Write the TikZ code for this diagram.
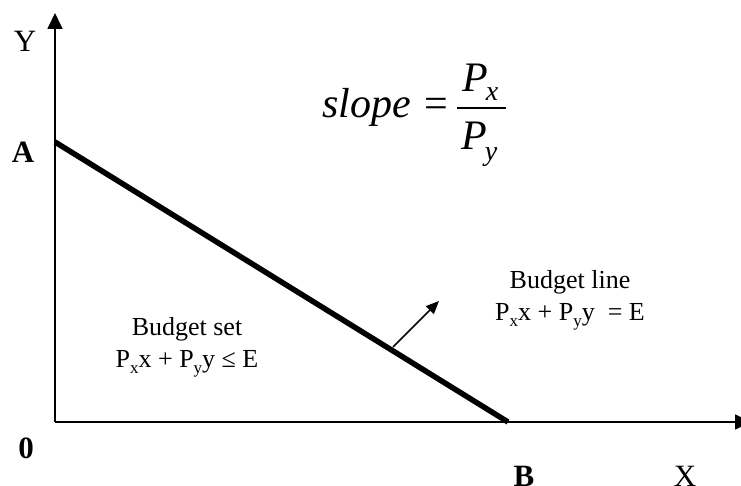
\documentclass[tikz,border=0pt]{standalone}
\usepackage{fontspec}
\setmainfont{Liberation Serif}
\usetikzlibrary{arrows.meta}
\tikzset{
  axis/.style={line width=1.7pt,-{Triangle[length=16pt,width=15pt]}},
  budget/.style={line width=5.5pt},
  pointer/.style={line width=1.6pt,-{Triangle[length=13pt,width=11pt]}},
  lab/.style={inner sep=0pt,anchor=base,font=\fontsize{31}{34}\selectfont},
  boldlab/.style={lab,font=\fontsize{31}{34}\selectfont\bfseries},
  txt/.style={inner sep=0pt,anchor=base,font=\fontsize{26}{32}\selectfont},
  big/.style={inner sep=0pt,anchor=base west,font=\fontsize{42}{50}\selectfont},
}
\begin{document}
\begin{tikzpicture}[x=1pt,y=-1pt]
\useasboundingbox (0,0) rectangle (741,486);
\clip (0,0) rectangle (741,486);
\coordinate (O) at (55,422);
\coordinate (Ytip) at (55,13);
\coordinate (Xtip) at (751,422);
\coordinate (A) at (55,142);
\coordinate (B) at (508,422);
\coordinate (ps) at (393,347);
\coordinate (pe) at (439,301);
\coordinate (barL) at (457,108);
\coordinate (barR) at (506,108);
\draw[axis] (O) -- (Ytip);
\draw[axis] (O) -- (Xtip);
\draw[budget] (A) -- (B);
\draw[pointer] (ps) -- (pe);
\node[lab] (ylab) at (25,52) {Y};
\node[boldlab] (alab) at (23,163) {A};
\node[boldlab] (olab) at (26,458) {0};
\node[boldlab] (blab) at (524,486) {B};
\node[lab] (xlab) at (685,486) {X};
\node[txt] (bs1) at (187,335) {Budget set};
\node[txt] (bs2) at (187,367) {P\raisebox{-6pt}{\fontsize{17}{20}\selectfont x}x + P\raisebox{-6pt}{\fontsize{17}{20}\selectfont y}y ≤ E};
\node[txt] (bl1) at (570,288) {Budget line};
\node[txt] (bl2) at (570,320) {P\raisebox{-6pt}{\fontsize{17}{20}\selectfont x}x + P\raisebox{-6pt}{\fontsize{17}{20}\selectfont y}y\ \ = E};
\node[big] (slope) at (322,118) {\itshape slope};
\node[big,anchor=base] (eq) at (436,118) {=};
\node[big] (num) at (462,92) {\itshape P\hspace{-2pt}\raisebox{-9pt}{\fontsize{28}{30}\selectfont x}};
\node[big] (den) at (461,150) {\itshape P\hspace{-2pt}\raisebox{-11pt}{\fontsize{28}{30}\selectfont y}};
\draw[line width=1.6pt] (barL) -- (barR);
\end{tikzpicture}
\end{document}
